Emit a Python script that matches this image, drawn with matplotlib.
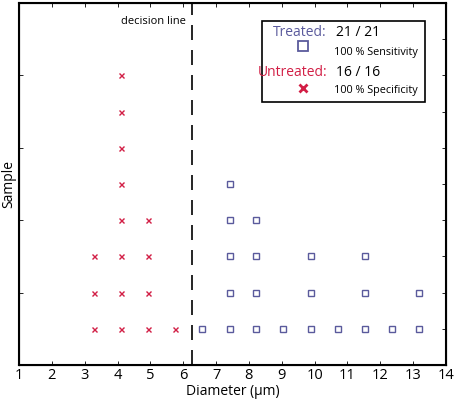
import matplotlib
matplotlib.use("Agg")
import matplotlib.pyplot as plt
from matplotlib.patches import Rectangle

plt.rcParams['font.family'] = ['Open Sans', 'DejaVu Sans']

# untreated (x markers): diameter and stacked sample row
untreated_x = [3.29, 3.29, 3.29,
               4.11, 4.11, 4.11, 4.11, 4.11, 4.11, 4.11, 4.11,
               4.94, 4.94, 4.94, 4.94,
               5.76]
untreated_y = [1, 2, 3,
               1, 2, 3, 4, 5, 6, 7, 8,
               1, 2, 3, 4,
               1]

# treated (squares)
treated_x = [6.58,
             7.41, 7.41, 7.41, 7.41, 7.41,
             8.23, 8.23, 8.23, 8.23,
             9.05,
             9.88, 9.88, 9.88,
             10.70,
             11.52, 11.52, 11.52,
             12.35,
             13.17, 13.17]
treated_y = [1,
             1, 2, 3, 4, 5,
             1, 2, 3, 4,
             1,
             1, 2, 3,
             1,
             1, 2, 3,
             1,
             1, 2]

decision_x = 6.27
xticks = list(range(1, 15))

blue = '#5a5a9c'
red = '#d21e45'
W, H = 456, 400

fig = plt.figure(figsize=(4.56, 4.0), dpi=100)
ax = fig.add_axes([19 / W, 1 - 365 / H, (446 - 19) / W, (365 - 3) / H])

ax.plot(untreated_x, untreated_y, 'x', color=red, ms=3.6, mew=1.0, ls='none')
ax.plot(treated_x, treated_y, 's', mfc='none', mec=blue, ms=4.5, mew=1.0, ls='none')
ax.axvline(decision_x, color='black', lw=1.2, dashes=(9, 6))
ax.text(decision_x - 0.2, 9.5, 'decision line', ha='right', va='center', fontsize=8)

ax.set_xlim(1, 14)
ax.set_ylim(0, 10)
ax.set_xticks(xticks)
ax.set_yticks([2, 4, 6, 8])
ax.set_yticklabels([])
ax.tick_params(axis='both', direction='in', length=3, width=0.6, labelsize=10.5, pad=2)
ax.tick_params(axis='x', top=True)
for s in ax.spines.values():
    s.set_linewidth(1.5)
ax.set_xlabel('Diameter (µm)', fontsize=10, labelpad=1)
ax.set_ylabel('Sample', fontsize=10, labelpad=0)

# right side ticks at every row
ax2 = ax.twinx()
ax2.set_ylim(0, 10)
ax2.set_yticks(range(1, 10))
ax2.set_yticklabels([])
ax2.tick_params(axis='y', direction='in', length=3, width=0.6)

# legend box, drawn in pixel coordinates
def fx(px):
    return px / W

def fy(py):
    return 1 - py / H

fig.patches.append(Rectangle((fx(262), fy(102)), (425 - 262) / W, (102 - 21) / H,
                             transform=fig.transFigure, fill=False, ec='black', lw=1.2))
fig.text(fx(327), fy(33), 'Treated:', color=blue, ha='right', va='center', fontsize=10)
fig.text(fx(336), fy(33), '21 / 21', color='black', ha='left', va='center', fontsize=10)
fig.text(fx(334), fy(52), '100 % Sensitivity', ha='left', va='center', fontsize=7.8)
fig.text(fx(327), fy(72), 'Untreated:', color=red, ha='right', va='center', fontsize=10)
fig.text(fx(336), fy(72), '16 / 16', color='black', ha='left', va='center', fontsize=10)
fig.text(fx(334), fy(90), '100 % Specificity', ha='left', va='center', fontsize=7.8)
fig.lines.append(plt.Line2D([fx(303)], [fy(46)], transform=fig.transFigure, marker='s',
                            mfc='none', mec=blue, ms=7, mew=1.3, ls='none'))
fig.lines.append(plt.Line2D([fx(303)], [fy(88)], transform=fig.transFigure, marker='x',
                            color=red, ms=5.5, mew=2.0, ls='none'))

fig.savefig('out.png', dpi=100)
